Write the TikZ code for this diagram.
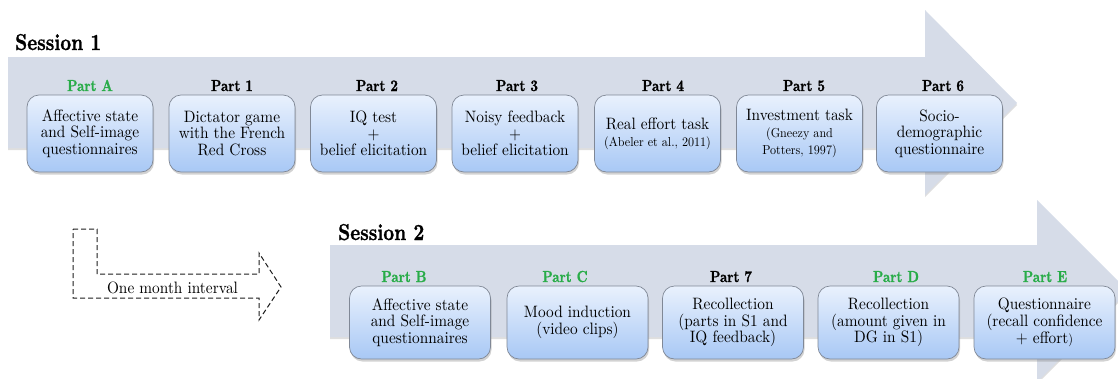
\documentclass[tikz,border=0pt]{standalone}
\usepackage{fontspec}
\setmainfont{lmroman10}[Extension=.otf, UprightFont=*-regular, BoldFont=*-bold, ItalicFont=*-italic, BoldItalicFont=*-bolditalic, FakeStretch=0.93]
\newfontfamily\labfont{lmroman10-bold.otf}[FakeStretch=0.82, FakeBold=1.2]
\usetikzlibrary{shadows}
\definecolor{arrowfill}{RGB}{214,220,232}
\definecolor{boxtop}{RGB}{233,241,253}
\definecolor{boxbot}{RGB}{168,200,245}
\definecolor{boxborder}{RGB}{128,136,150}
\definecolor{partgreen}{RGB}{40,172,72}
\definecolor{dashgray}{RGB}{30,30,30}
\newcommand{\boxfont}{\rmfamily\fontsize{16.5}{16.7}\selectfont}
\newcommand{\smallfont}{\rmfamily\fontsize{13}{13.4}\selectfont}
\tikzset{
  pbox/.style={rounded corners=12pt, draw=boxborder, line width=0.7pt,
    top color=boxtop, bottom color=boxbot, align=center, inner sep=0pt,
    font=\boxfont,
    drop shadow={opacity=0.35, shadow xshift=1pt, shadow yshift=-2.5pt}},
  topbox/.style={pbox, minimum width=126pt, minimum height=77pt},
  botbox/.style={pbox, minimum width=141pt, minimum height=73pt},
  plabel/.style={anchor=base, font=\labfont\fontsize{16}{16}\selectfont, inner sep=0pt},
  glabel/.style={plabel, text=partgreen},
  sesslabel/.style={anchor=base west, font=\labfont\fontsize{23}{23}\selectfont, inner sep=0pt},
  bigarrow/.style={fill=arrowfill, draw=none,
    drop shadow={opacity=0.25, shadow xshift=0pt, shadow yshift=-2pt}},
  dasharrow/.style={draw=dashgray, line width=1pt, dash pattern=on 5pt off 3pt}
}
\begin{document}
\begin{tikzpicture}[x=1pt,y=-1pt]
\useasboundingbox (0,0) rectangle (1118,378);
\clip (0,0) rectangle (1118,378);
\fill[white] (0,0) rectangle (1118,378);
% big arrows
\path[bigarrow] (8,57) -- (925,57) -- (925,10) -- (1017,103) -- (925,195) -- (925,148) -- (8,148) -- cycle;
\path[bigarrow] (330,245) -- (1037,245) -- (1037,200) -- (1128,291) -- (1037,382) -- (1037,337) -- (330,337) -- cycle;
% session titles
\node[sesslabel] (s1) at (15,50) {Session 1};
\node[sesslabel] (s2) at (338,240) {Session 2};
% top row
\node[topbox] (pA) at (90,133.5) {Affective state\\and Self-image\\questionnaires};
\node[topbox] (p1) at (232,133.5) {Dictator game\\with the French\\Red Cross};
\node[topbox] (p2) at (373.5,133.5) {IQ test\\+\\belief elicitation};
\node[topbox] (p3) at (515,133.5) {Noisy feedback\\+\\belief elicitation};
\node[topbox] (p4) at (657.5,133.5) {Real effort task\\{\smallfont (Abeler et al., 2011)}};
\node[topbox] (p5) at (799.5,133.5) {Investment task\\{\smallfont (Gneezy and}\\{\smallfont Potters, 1997)}};
\node[topbox] (p6) at (939.5,133.5) {Socio-\\demographic\\questionnaire};
\node[glabel] (lA) at (90,91) {Part A};
\node[plabel] (l1) at (232,91) {Part 1};
\node[plabel] (l2) at (377,91) {Part 2};
\node[plabel] (l3) at (517,91) {Part 3};
\node[plabel] (l4) at (663,91) {Part 4};
\node[plabel] (l5) at (804,91) {Part 5};
\node[plabel] (l6) at (943,91) {Part 6};
% bottom row
\node[botbox] (pB) at (420,322.5) {Affective state\\and Self-image\\questionnaires};
\node[botbox] (pC) at (577.5,322.5) {Mood induction\\(video clips)};
\node[botbox] (p7) at (733,322.5) {Recollection\\(parts in S1 and\\IQ feedback)};
\node[botbox] (pD) at (888.5,322.5) {Recollection\\(amount given in\\DG in S1)};
\node[botbox] (pE) at (1044.5,322.5) {Questionnaire\\(recall confidence\\+ effort{\smallfont)}};
\node[glabel] (lB) at (404,282) {Part B};
\node[glabel] (lC) at (565,282) {Part C};
\node[plabel] (l7) at (731,282) {Part 7};
\node[glabel] (lD) at (896,282) {Part D};
\node[glabel] (lE) at (1045,282) {Part E};
% dashed interval arrow
\draw[dasharrow] (73,229) -- (97,229) -- (97,274) -- (259,274) -- (259,253) -- (281,287) -- (259,320) -- (259,298) -- (73,298) -- cycle;
\node[anchor=base, inner sep=0pt, font=\boxfont] (interval) at (172.5,293) {One month interval};
\end{tikzpicture}
\end{document}
